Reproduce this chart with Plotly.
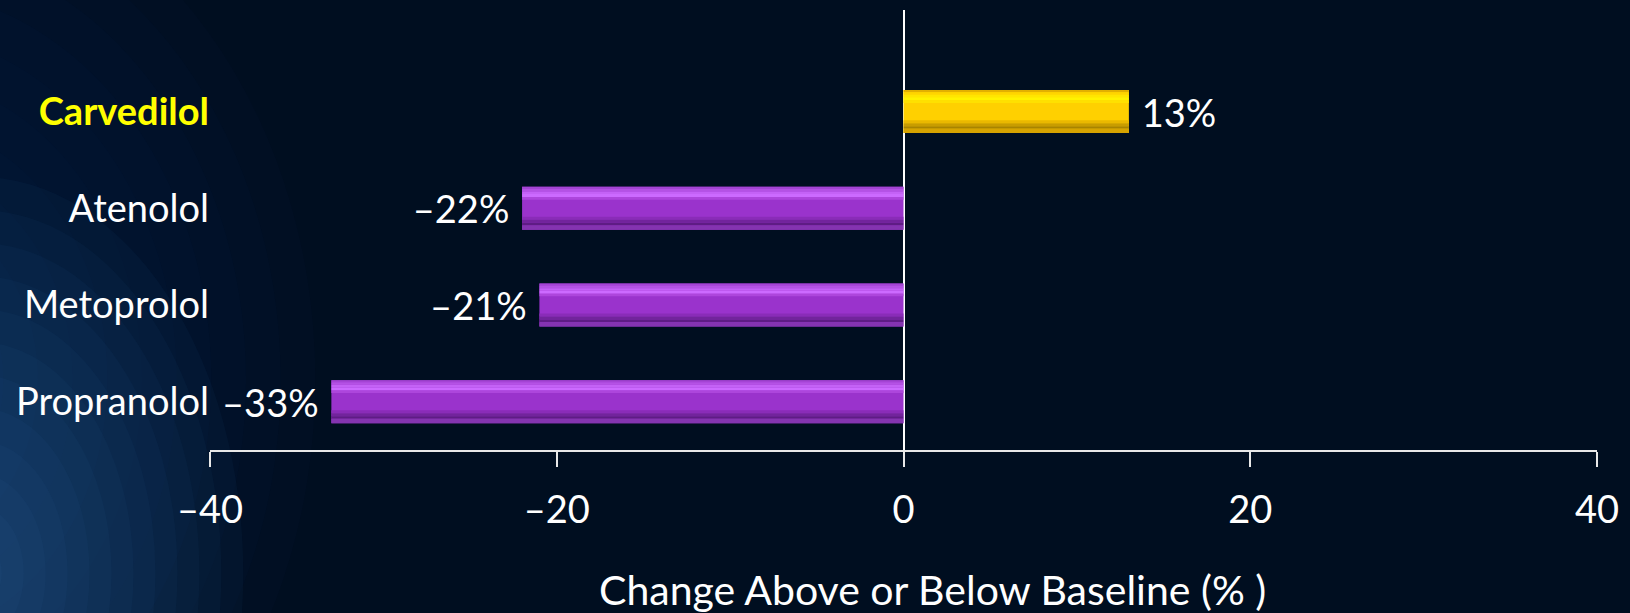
import plotly.graph_objects as go

# Data: change in insulin sensitivity vs baseline for each beta-blocker (%)
drugs = ["Propranolol", "Metoprolol", "Atenolol", "Carvedilol"]
changes = [-33, -21, -22, 13]
tick_values = [-40, -20, 0, 20, 40]
tick_labels = ["\u201340", "\u201320", "0", "20", "40"]

FONT = "Lato"
BG = "#000e20"
BAR_H = 0.445

# vertical colour profile of the bevelled bars: (top frac, bottom frac, purple, gold)
profile = [
    (0.00, 0.05, "#a444d4", "#e2b000"),
    (0.05, 0.11, "#b452e4", "#ffd400"),
    (0.11, 0.17, "#c462f6", "#ffe500"),
    (0.17, 0.24, "#cc6aff", "#fff200"),
    (0.24, 0.30, "#ad46dc", "#ffe000"),
    (0.70, 0.77, "#8a2cb8", "#eab800"),
    (0.77, 0.84, "#72249c", "#c89c00"),
    (0.84, 0.90, "#5e1c84", "#a88300"),
    (0.90, 1.00, "#8434b0", "#d6a300"),
]


def fmt(v):
    s = f"{abs(v)}%"
    return ("\u2013" + s + "\u00a0") if v < 0 else ("\u00a0" + s)


fig = go.Figure()

# main bar body (carries the value labels)
fig.add_trace(go.Bar(
    y=drugs, x=changes, orientation="h", width=BAR_H,
    marker=dict(color=["#9a33cc" if v < 0 else "#ffd000" for v in changes],
                line=dict(width=0)),
    text=[fmt(v) for v in changes], textposition="outside",
    outsidetextfont=dict(family=FONT, size=38, color="white"),
    constraintext="none", cliponaxis=False, hoverinfo="skip",
))

# bevel bands layered over the body
for f0, f1, purple, gold in profile:
    fig.add_trace(go.Bar(
        y=drugs, x=changes, orientation="h",
        width=(f1 - f0) * BAR_H, offset=BAR_H / 2 - f1 * BAR_H,
        marker=dict(color=[purple if v < 0 else gold for v in changes],
                    line=dict(width=0)),
        hoverinfo="skip",
    ))

# soft blue glow on the left side of the slide
glow = []
n = 12
for i in range(n):
    r = 1.0 - i / n
    glow.append(dict(
        type="circle", xref="paper", yref="paper", layer="below",
        x0=-0.224 - 0.30 * r, x1=-0.224 + 0.30 * r,
        y0=0.16 - 1.18 * r, y1=0.16 + 1.18 * r,
        fillcolor="rgba(40,85,150,0.025)", line=dict(width=0),
    ))
for i in range(n):
    r = 1.0 - i / n
    glow.append(dict(
        type="circle", xref="paper", yref="paper", layer="below",
        x0=-0.166 - 0.19 * r, x1=-0.166 + 0.19 * r,
        y0=-0.28 - 0.9 * r, y1=-0.28 + 0.9 * r,
        fillcolor="rgba(75,135,200,0.045)", line=dict(width=0),
    ))

fig.update_layout(
    width=1630, height=613,
    margin=dict(l=210, r=33, t=10, b=163),
    paper_bgcolor=BG, plot_bgcolor="rgba(0,0,0,0)",
    barmode="overlay", showlegend=False,
    font=dict(family=FONT, color="white", size=38),
    shapes=glow,
    annotations=[dict(
        text="Change Above or Below Baseline (% )",
        xref="paper", yref="paper", x=0.521, y=-0.318,
        xanchor="center", yanchor="middle", showarrow=False,
        font=dict(family=FONT, size=41, color="white"),
    )],
    xaxis=dict(
        range=[-40, 40], tickvals=tick_values, ticktext=tick_labels,
        showgrid=False, zeroline=True, zerolinecolor="white", zerolinewidth=2,
        showline=True, linecolor="#e8e8e8", linewidth=2,
        ticks="outside", ticklen=15, tickwidth=2, tickcolor="#e8e8e8",
        ticklabelstandoff=10,
        tickfont=dict(family=FONT, size=38, color="white"),
        fixedrange=True,
    ),
    yaxis=dict(
        categoryorder="array", categoryarray=drugs,
        tickvals=drugs,
        ticktext=["Propranolol", "Metoprolol", "Atenolol",
                  "<b><span style='color:#ffff00'>Carvedilol</span></b>"],
        range=[-0.5, 4.05], showgrid=False, zeroline=False, showline=False,
        ticks="", tickfont=dict(family=FONT, size=38, color="white"),
        fixedrange=True,
    ),
)

fig.write_html("out.html")
